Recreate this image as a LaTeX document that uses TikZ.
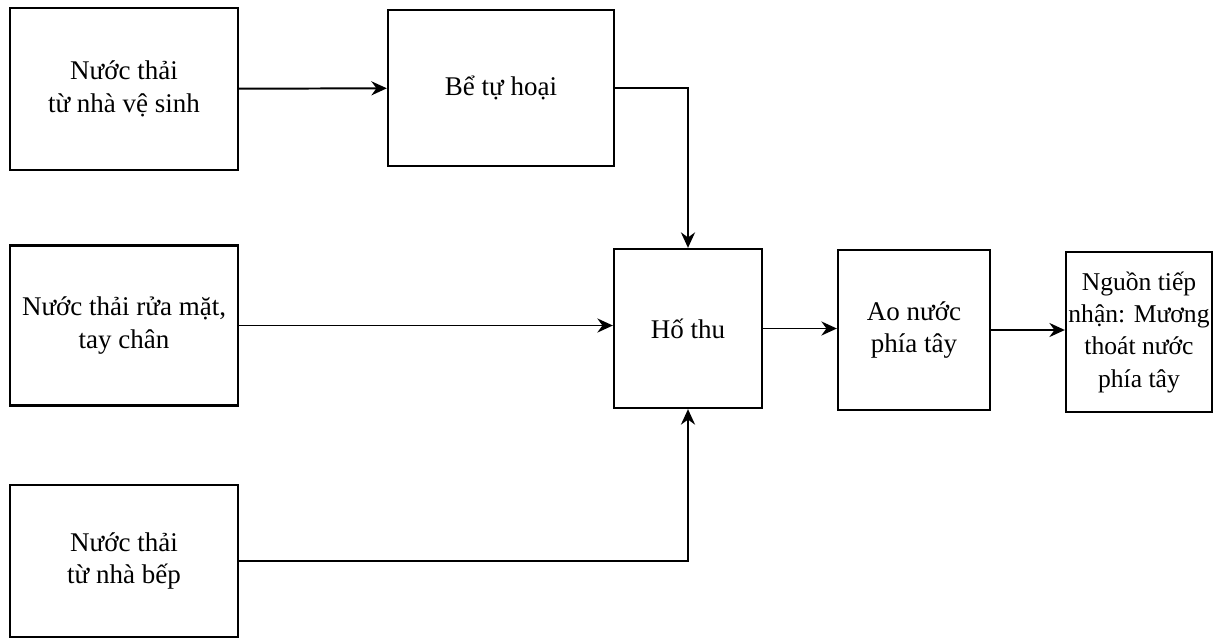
\documentclass[tikz,border=0pt]{standalone}
\usepackage{fontspec}
\setmainfont{Liberation Serif}
\usetikzlibrary{arrows.meta, positioning}
\tikzset{
  srcbox/.style={rectangle, draw=black, line width=1.6pt, align=center, font=\fontsize{19.2}{23}\selectfont, minimum width=5.7cm, minimum height=4cm, inner sep=2pt},
  unitbox/.style={rectangle, draw=black, line width=1.6pt, align=center, font=\fontsize{19.2}{23}\selectfont, minimum width=3.7cm, minimum height=4cm, inner sep=1pt},
  flow/.style={-{Stealth[length=11pt, width=10pt]}, line width=1.4pt},
}
\begin{document}
\begin{tikzpicture}[x=0.025cm, y=-0.025cm]
\useasboundingbox (0,0) rectangle (1222,640);
\node[srcbox, minimum height=4.05cm] (toilet) at (124,89) {Nước thải\\ từ nhà vệ sinh};
\node[srcbox, minimum width=5.65cm, minimum height=3.9cm] (septic) at (501,88) {Bể tự hoại};
\node[srcbox] (wash) at (124,325.5) {Nước thải rửa mặt,\\ tay chân};
\node[srcbox, minimum height=3.8cm] (kitchen) at (124,561) {Nước thải\\ từ nhà bếp};
\node[unitbox, minimum height=3.975cm] (pit) at (688,328.5) {Hố thu};
\node[unitbox, minimum width=3.8cm] (pond) at (914,330) {Ao nước\\ phía tây};
\node[unitbox, minimum width=3.65cm, inner sep=0pt, font=\fontsize{18.2}{23}\selectfont] (outlet) at (1139,332) {Nguồn tiếp\\ nhận: Mương\\ thoát nước\\ phía tây};

\draw[flow] (toilet) -- (septic);
\draw[flow] (septic.east) -| (pit.north);
\draw[flow] (wash.east) -- (wash.east -| pit.west);
\draw[flow] (kitchen.east) -| (pit.south);
\draw[flow] (pit.east) -- (pit.east -| pond.west);
\draw[flow] (pond.east) -- (pond.east -| outlet.west);
\end{tikzpicture}
\end{document}
